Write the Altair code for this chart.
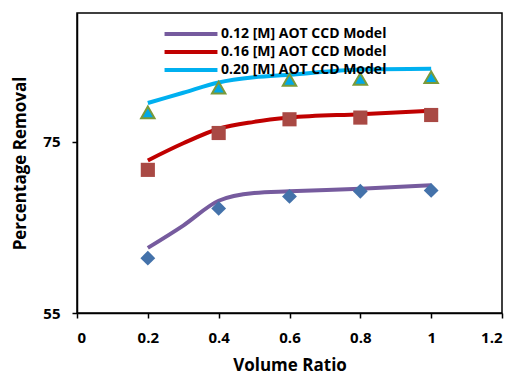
import altair as alt
import pandas as pd

# Model curve values
model_x = [0.2, 0.3, 0.4, 0.5, 0.6, 0.8, 1.0]
model_012 = [62.6, 65.2, 68.1, 69.0, 69.2, 69.5, 69.9]
model_016 = [72.8, 74.8, 76.5, 77.3, 77.8, 78.2, 78.6]
model_020 = [79.5, 80.7, 81.9, 82.5, 82.8, 83.4, 83.5]

# Experimental points
exp_x = [0.2, 0.4, 0.6, 0.8, 1.0]
exp_012 = [61.4, 67.2, 68.6, 69.2, 69.3]
exp_016 = [71.7, 76.0, 77.6, 77.8, 78.1]
exp_020 = [78.4, 81.3, 82.2, 82.3, 82.5]

labels = ["0.12 [M] AOT CCD Model", "0.16 [M] AOT CCD Model", "0.20 [M] AOT CCD Model"]
line_colors = ["#765B9E", "#C00000", "#00B0F0"]

x_ticks = [0, 0.2, 0.4, 0.6, 0.8, 1.0, 1.2]
y_ticks = [55, 75]

lines = pd.DataFrame({
    "x": model_x * 3,
    "y": model_012 + model_016 + model_020,
    "series": [labels[0]] * 7 + [labels[1]] * 7 + [labels[2]] * 7,
})
p1 = pd.DataFrame({"x": exp_x, "y": exp_012})
p2 = pd.DataFrame({"x": exp_x, "y": exp_016})
p3 = pd.DataFrame({"x": exp_x, "y": exp_020})

FONT = "Open Sans"

xscale = alt.Scale(domain=[0, 1.2], nice=False)
yscale = alt.Scale(domain=[55, 90], nice=False)

xenc = alt.X("x:Q", scale=xscale, axis=alt.Axis(
    values=x_ticks, format="~g", title="Volume Ratio", grid=False,
    titlePadding=12))
yenc = alt.Y("y:Q", scale=yscale, axis=alt.Axis(
    values=y_ticks, title="Percentage Removal", grid=False,
    titlePadding=13))

line_layer = alt.Chart(lines).mark_line(strokeWidth=4, interpolate="monotone").encode(
    x=xenc, y=yenc,
    color=alt.Color("series:N", scale=alt.Scale(domain=labels, range=line_colors),
                    legend=alt.Legend(
                        title=None, orient="none", legendX=105, legendY=12,
                        symbolType="M-4,0H4", symbolSize=175, symbolStrokeWidth=4,
                        labelFont=FONT, labelFontSize=14, labelFontWeight="bold",
                        labelColor="black", rowPadding=1, labelOffset=21, labelLimit=400)),
)

pts1 = alt.Chart(p1).mark_point(shape="diamond", filled=True, size=220, color="#4472AA", opacity=1).encode(x=xenc, y=yenc)
pts2 = alt.Chart(p2).mark_square(size=200, color="#A94944", opacity=1).encode(x=xenc, y=yenc)
pts3 = alt.Chart(p3).mark_point(shape="triangle-up", filled=True, size=180, fill="#00A8E8",
                                stroke="#7A9A3A", strokeWidth=2, opacity=1).encode(x=xenc, y=yenc)

chart = alt.layer(line_layer, pts1, pts2, pts3).properties(
    width=425, height=300,
    autosize=alt.AutoSizeParams(type="none"),
    padding={"left": 77, "top": 13, "right": 10, "bottom": 63},
    background="white",
).configure_view(
    stroke="black", strokeWidth=1.5
).configure_axis(
    domainColor="black", domainWidth=1.5, tickColor="black", tickWidth=1.5, tickSize=5,
    labelFont=FONT, labelFontSize=15, labelFontWeight="bold", labelColor="black",
    titleFont=FONT, titleFontSize=17, titleFontWeight="bold", titleColor="black",
    labelPadding=12,
)

chart.save("out.html", embed_options={"renderer": "svg", "actions": False})
